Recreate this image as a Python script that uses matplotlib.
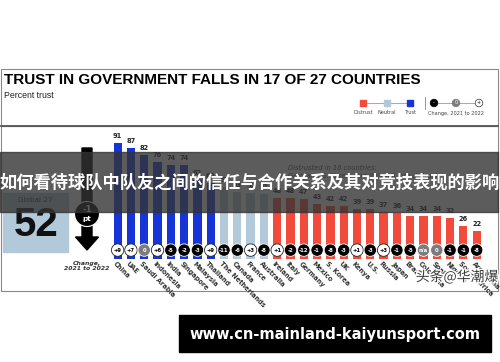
'''Trust in government bar chart (Edelman-style) with watermark overlays'''
import matplotlib
matplotlib.use('Agg')
import matplotlib.pyplot as plt
from matplotlib.patches import Rectangle, Circle, FancyArrow
import matplotlib.patheffects as pe

countries = ["China", "UAE", "Saudi Arabia", "Indonesia", "India", "Singapore",
             "Malaysia", "Thailand", "The Netherlands", "Canada", "France",
             "Australia", "Ireland", "Italy", "Germany", "Mexico", "S. Korea",
             "UK", "Kenya", "U.S.", "Russia", "Japan", "Brazil", "Colombia",
             "Spain", "Nigeria", "South Africa", "Argentina"]
trust = [91, 87, 82, 76, 74, 74, 62, 60, 57, 53, 52, 51, 48, 48, 47, 43, 42,
         42, 39, 39, 37, 36, 34, 34, 34, 32, 26, 22]
changes = ["+9", "+7", "0", "+6", "-5", "-2", "-3", "+9", "-11", "-6", "+3",
           "-8", "+1", "-2", "-12", "-1", "-8", "-3", "+1", "-3", "+3", "-1",
           "-5", "n/a", "0", "-1", "-1", "-8"]
global_trust = 52
global_change = "-1"

BLUE = '#1634d8'
NEUTRAL = '#b1c9d8'
RED = '#f24a3b'
GRAY = '#7c7c7c'
W, H = 500, 362

fig = plt.figure(figsize=(5, 3.62), dpi=100)

# background / frame layer in pixel coords
bg = fig.add_axes([0, 0, 1, 1])
bg.set_xlim(0, W)
bg.set_ylim(H, 0)
bg.axis('off')
bg.add_patch(Rectangle((1, 69), 497, 57, fill=False, ec='#8a8a8a', lw=0.8))
bg.plot([1, 498], [126, 126], color='#555555', lw=1.3)
bg.add_patch(Rectangle((1, 126), 497, 165, fill=False, ec='#8a8a8a', lw=0.8))
bg.text(4, 80, "TRUST IN GOVERNMENT FALLS IN 17 OF 27 COUNTRIES",
        fontsize=11, weight='bold', family='Liberation Sans', va='center')
bg.text(4, 95, "Percent trust", fontsize=6.3, family='Liberation Sans',
        va='center', color='#222222')

# legend
bg.plot([363, 410], [103, 103], color='#999999', lw=0.6)
for x, c, lab in [(363, RED, "Distrust"), (387, NEUTRAL, "Neutral"), (410, BLUE, "Trust")]:
    bg.add_patch(Rectangle((x - 3.2, 99.8), 6.4, 6.4, color=c, zorder=3))
    bg.text(x, 113, lab, fontsize=3.6, ha='center', va='center', color='#444444')
bg.plot([425, 425], [97, 109], color='#888888', lw=0.6)
bg.plot([434, 479], [103, 103], color='#999999', lw=0.6)
for x, fc, ec, sym, tc in [(434, 'black', 'black', "-", 'white'),
                           (456, GRAY, GRAY, "0", 'white'),
                           (479, 'white', '#333333', "+", 'black')]:
    bg.add_patch(Circle((x, 103), 3.8, fc=fc, ec=ec, lw=0.5, zorder=3))
    bg.text(x, 103, sym, fontsize=3.6, ha='center', va='center', color=tc, zorder=4)
bg.text(456, 113, "Change, 2021 to 2022", fontsize=3.6, ha='center',
        va='center', color='#444444')

# global panel
bg.add_patch(Rectangle((3, 193), 65, 59, color=NEUTRAL))
bg.text(35, 200, "Global 27", fontsize=5.2, ha='center', va='center', color='#333333')
bg.text(36, 225, str(global_trust), fontsize=29, weight='bold', ha='center',
        va='center', family='Liberation Sans', color='#111111')
bg.add_patch(FancyArrow(87, 148, 0, 102, width=10, head_width=23,
                        head_length=13, length_includes_head=True, color='black'))
bg.add_patch(Circle((87, 214), 12.5, fc='black', ec='white', lw=0.8, zorder=3))
bg.text(87, 209, global_change, fontsize=6, weight='bold', ha='center',
        va='center', color='white', zorder=4)
bg.text(87, 219.5, "pt", fontsize=5.2, weight='bold', ha='center',
        va='center', color='white', zorder=4)
bg.text(87, 266, "Change,\n2021 to 2022", fontsize=4.4, weight='bold',
        style='italic', ha='center', va='center', color='#333333', linespacing=1.1)
bg.text(288, 172, "Distrusted in 16 countries:\nGermany, S. Korea, and Italy fall into distrust",
        fontsize=4.8, style='italic', va='center', color='#444444', linespacing=1.3)

# bar chart
ax = fig.add_axes([111 / W, (H - 259) / H, 372.3 / W, 127.1 / H])
ax.patch.set_alpha(0)
ax.axis('off')
ax.set_xlim(-0.5, len(countries) - 0.5)
ax.set_ylim(0, 100)
xs = list(range(len(countries)))
colors = [BLUE if v >= 60 else NEUTRAL if v >= 50 else RED for v in trust]
ax.bar(xs, trust, width=0.62, color=colors, zorder=1)
for i, v in enumerate(trust):
    ax.text(i, v + 5.5, str(v), ha='center', va='center', fontsize=4.8,
            weight='bold', color='#222222')
face, edge, tcol = [], [], []
for ch in changes:
    if ch.startswith('+'):
        face.append('white'); edge.append('#222222'); tcol.append('black')
    elif ch.startswith('-'):
        face.append('black'); edge.append('white'); tcol.append('white')
    else:
        face.append(GRAY); edge.append('white'); tcol.append('white')
ax.scatter(xs, [7] * len(xs), s=80, c=face, edgecolors=edge, linewidths=0.6,
           zorder=3, clip_on=False)
for i, ch in enumerate(changes):
    ax.text(i, 7, ch, ha='center', va='center', fontsize=3.8, weight='bold',
            color=tcol[i], zorder=4)
for i, name in enumerate(countries):
    ax.text(i - 0.3, -3, name, rotation=-45, rotation_mode='anchor', ha='left',
            va='center', fontsize=4.8, weight='bold', color='#333333', clip_on=False)

# overlays
ov = fig.add_axes([0, 0, 1, 1], zorder=10)
ov.set_xlim(0, W)
ov.set_ylim(H, 0)
ov.axis('off')
ov.patch.set_alpha(0)
ov.add_patch(Rectangle((0, 152), 498, 60, color='#333333', alpha=0.8))
ov.text(250, 183, "如何看待球队中队友之间的信任与合作关系及其对竞技表现的影响",
        fontsize=12.4, weight='bold', color='white', ha='center', va='center',
        family=['Noto Sans CJK SC', 'DejaVu Sans'])
ov.text(457, 277, "头条@华潮爆", fontsize=10, color='#3a3a3a', ha='center',
        va='center', family=['Noto Sans CJK SC', 'DejaVu Sans'],
        path_effects=[pe.withStroke(linewidth=2, foreground='white')])
ov.add_patch(Rectangle((179, 315), 312, 37, color='black'))
ov.text(335, 334, "www.cn-mainland-kaiyunsport.com", fontsize=10.5,
        weight='bold', color='white', ha='center', va='center')

fig.savefig('out.png', dpi=100)
